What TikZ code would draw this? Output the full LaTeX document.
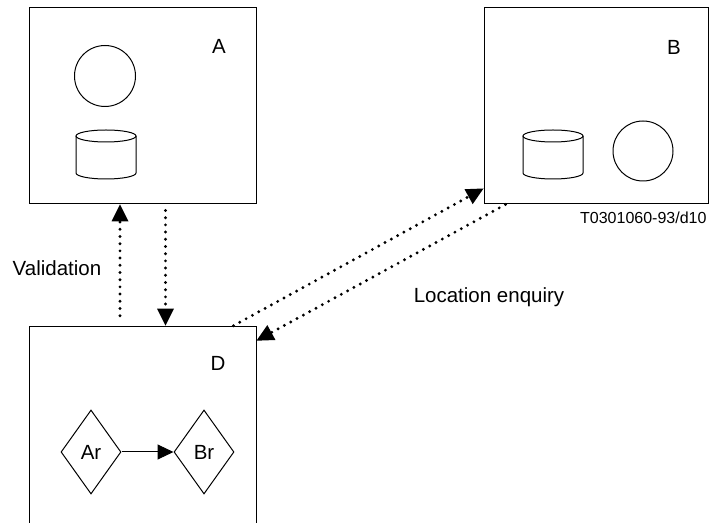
\documentclass[tikz,border=0pt]{standalone}
\usepackage{fontspec}
\setmainfont{Liberation Sans}
\usetikzlibrary{arrows.meta,shapes.geometric,calc}
\tikzstyle{line}=[draw,line width=1pt]
\tikzstyle{box}=[line,rectangle,inner sep=0pt]
\tikzstyle{dotarrow}=[line width=3.2pt,line cap=round,dash pattern=on 0pt off 7.2pt,-{Triangle[length=17pt,width=17pt,line width=0pt]}]
\tikzstyle{rel}=[diamond,line,inner sep=0pt,minimum width=60pt,minimum height=84pt]
\tikzset{drum/.pic={
  \draw[line] (0,0) ellipse [x radius=30, y radius=6];
  \draw[line] (-30,0) -- (-30,-37) arc [start angle=180, end angle=360, x radius=30, y radius=6] -- (30,0);
}}

\begin{document}
\begin{tikzpicture}[x=1pt,y=1pt,font=\fontsize{20.5}{24}\selectfont]
\useasboundingbox (0,0) rectangle (712,522);
% boxes
\node[box,minimum width=227pt,minimum height=196pt](A)at (142.5,416){};
\node[box,minimum width=224pt,minimum height=196pt](B)at (596,416){};
\node[box,minimum width=227pt,minimum height=210pt,anchor=north](D)at (142.5,196.3){};
\node[](labA)at (219,476){A};
\node[](labB)at (674,475){B};
\node[](labD)at (218,159){D};
% contents of A and B
\node[circle,line,inner sep=0pt,minimum size=61pt](procA)at (105,446){};
\pic at (106,386) {drum};
\pic at (553,386) {drum};
\node[circle,line,inner sep=0pt,minimum size=60pt](procB)at (643,371){};
% contents of D
\node[rel](ar)at (91,70){Ar};
\node[rel](br)at (204,70){Br};
\draw[line,-{Triangle[length=16pt,width=15pt]}] (ar.east)--(br.west);
% messages
\draw[dotarrow] ([xshift=-22.5pt,yshift=10pt]D.north)--([xshift=-22.5pt]A.south);
\draw[dotarrow] ([xshift=23pt,yshift=-6pt]A.south)--([xshift=23pt]D.north);
\draw[dotarrow] ([xshift=-23pt]D.north east)--([yshift=16pt]B.south west);
\draw[dotarrow] ([xshift=22pt]B.south west)--([yshift=-15pt]D.north east);
\node[](valid)at (57,254){Validation};
\node[](locq)at (489,225){Location enquiry};
\node[anchor=east,font=\fontsize{16}{19}\selectfont](ref)at (710,304){T0301060-93/d10};
\end{tikzpicture}
\end{document}
